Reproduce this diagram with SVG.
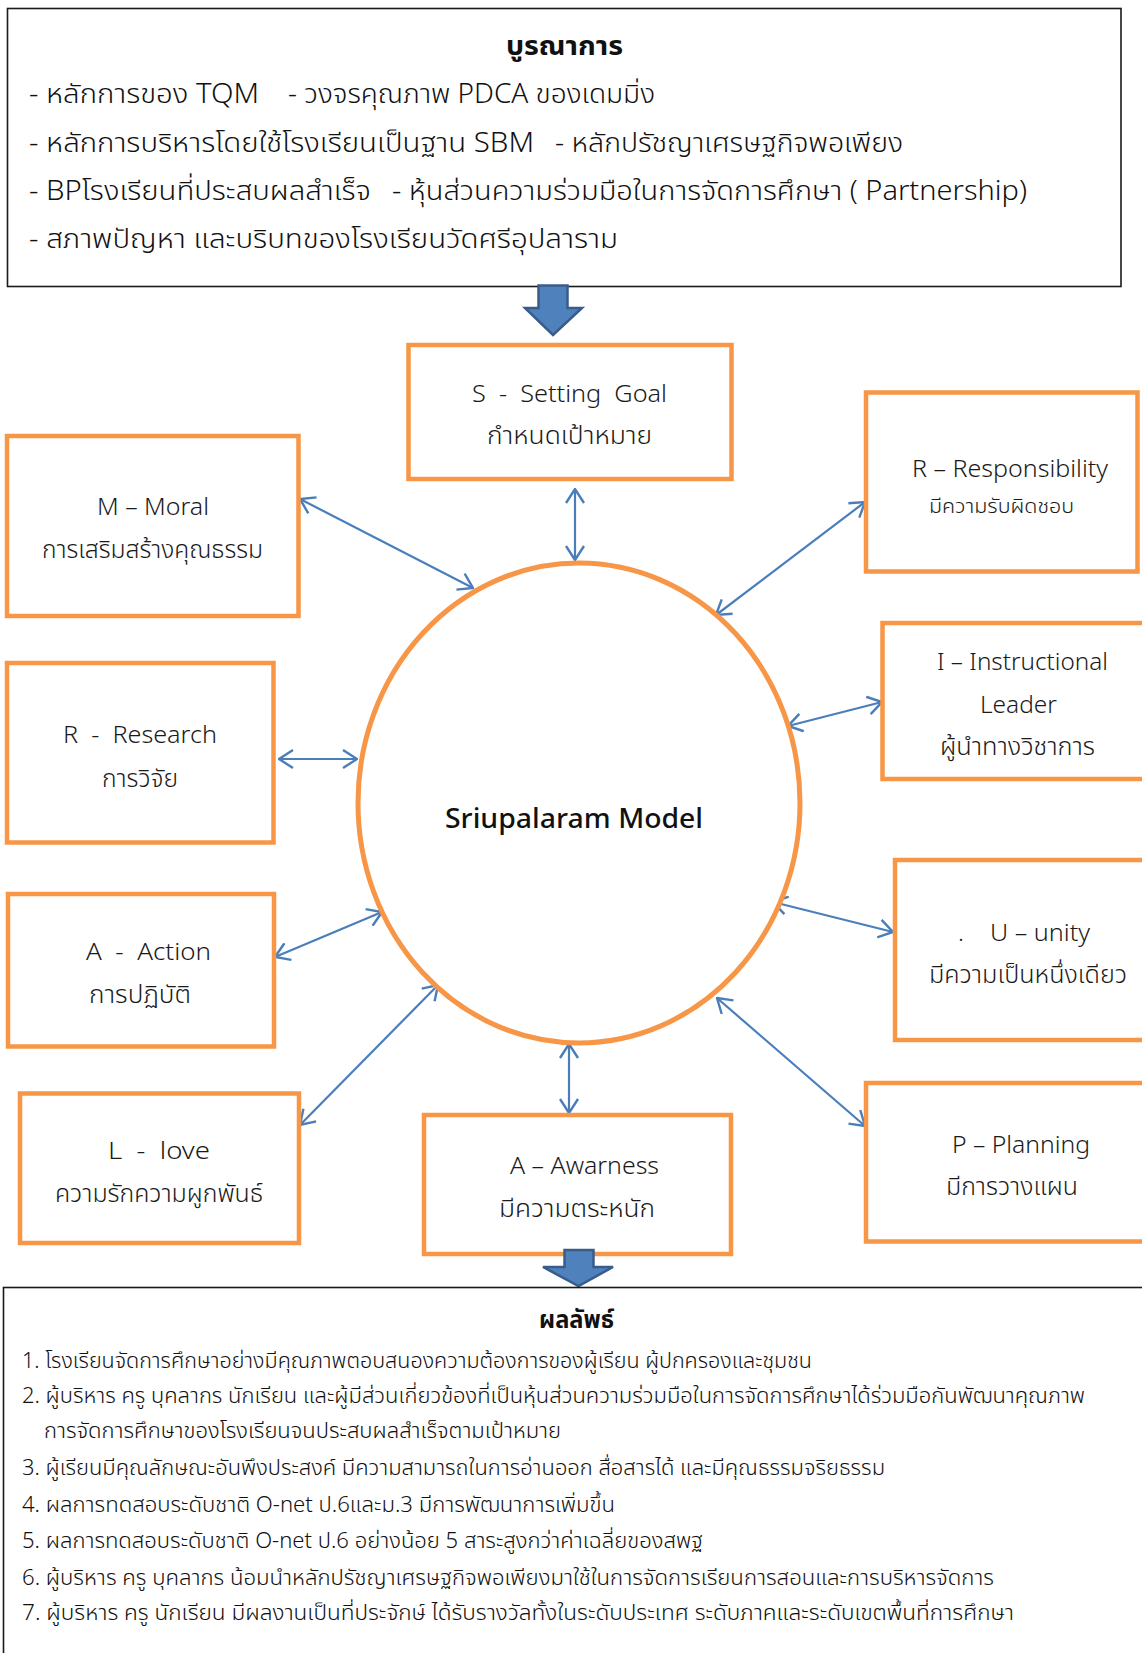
<svg xmlns="http://www.w3.org/2000/svg" width="1142" height="1653" viewBox="0 0 1142 1653">
<defs>
<style>
.frame{fill:#fff;stroke:#1a1a1a;stroke-width:1.6}
.box{fill:#fff;stroke:#F79646;stroke-width:4.5}
.circ{fill:#fff;stroke:#F79646;stroke-width:5}
.con{fill:none;stroke:#4A7EBB;stroke-width:2.2}
.big{fill:#4F81BD;stroke:#385D8A;stroke-width:2.5}
text{white-space:pre}
.lbl{font-family:"Noto Sans Thai","Leelawadee UI",Tahoma,"DejaVu Sans","Noto Sans",sans-serif;font-size:24px;font-weight:300;fill:#1a1a1a}
.sm{font-size:20px}
.txt{font-family:"Noto Sans Thai","Angsana New","DejaVu Sans Condensed","Liberation Sans",sans-serif;font-size:27px;font-weight:300;fill:#111}
.btxt{font-family:"Noto Sans Thai","Angsana New","DejaVu Sans Condensed","Liberation Sans",sans-serif;font-size:21px;font-weight:300;fill:#111}
.hd{font-weight:bold}
.model{font-family:"Noto Sans Thai","Leelawadee UI","Noto Sans",sans-serif;font-size:27px;font-weight:500;fill:#111}
</style>
<marker id="ah" viewBox="0 0 16 20" refX="15" refY="10" markerWidth="16" markerHeight="20" markerUnits="userSpaceOnUse" orient="auto-start-reverse">
<path d="M1,1 L15,10 L1,19" fill="none" stroke="#4A7EBB" stroke-width="2.4"/>
</marker>
</defs>
<rect width="1142" height="1653" fill="#fff"/>

<g id="top-box">
<rect class="frame" x="7.5" y="8.5" width="1113.5" height="278"/>
<text class="txt hd" x="506" y="55" textLength="117" lengthAdjust="spacingAndGlyphs">บูรณาการ</text>
<text class="txt" x="29" y="103" textLength="230" lengthAdjust="spacingAndGlyphs">- หลักการของ TQM</text>
<text class="txt" x="288" y="103" textLength="367" lengthAdjust="spacingAndGlyphs">- วงจรคุณภาพ PDCA ของเดมมิ่ง</text>
<text class="txt" x="29" y="152" textLength="505" lengthAdjust="spacingAndGlyphs">- หลักการบริหารโดยใช้โรงเรียนเป็นฐาน SBM</text>
<text class="txt" x="555" y="152" textLength="348" lengthAdjust="spacingAndGlyphs">- หลักปรัชญาเศรษฐกิจพอเพียง</text>
<text class="txt" x="29" y="200" textLength="342" lengthAdjust="spacingAndGlyphs">- BPโรงเรียนที่ประสบผลสำเร็จ</text>
<text class="txt" x="392" y="200" textLength="635" lengthAdjust="spacingAndGlyphs">- หุ้นส่วนความร่วมมือในการจัดการศึกษา ( Partnership)</text>
<text class="txt" x="29" y="248" textLength="589" lengthAdjust="spacingAndGlyphs">- สภาพปัญหา และบริบทของโรงเรียนวัดศรีอุปลาราม</text>
</g>

<g id="arrow-in">
<path class="big" d="M538.5,285.5 H567.5 V308 H582 L553,335 L525,308 H538.5 Z"/>
</g>

<g id="connectors">
<line class="con" x1="575" y1="489" x2="575" y2="560" marker-start="url(#ah)" marker-end="url(#ah)"/>
<line class="con" x1="300" y1="499" x2="473" y2="588" marker-start="url(#ah)" marker-end="url(#ah)"/>
<line class="con" x1="865" y1="502" x2="716" y2="615" marker-start="url(#ah)" marker-end="url(#ah)"/>
<line class="con" x1="279" y1="759" x2="357" y2="759" marker-start="url(#ah)" marker-end="url(#ah)"/>
<line class="con" x1="882" y1="702" x2="788" y2="726" marker-start="url(#ah)" marker-end="url(#ah)"/>
<line class="con" x1="275" y1="957" x2="382" y2="912" marker-start="url(#ah)" marker-end="url(#ah)"/>
<line class="con" x1="893" y1="932" x2="773" y2="902" marker-start="url(#ah)" marker-end="url(#ah)"/>
<line class="con" x1="300" y1="1125" x2="438" y2="985" marker-start="url(#ah)" marker-end="url(#ah)"/>
<line class="con" x1="569" y1="1044" x2="569" y2="1113" marker-start="url(#ah)" marker-end="url(#ah)"/>
<line class="con" x1="865" y1="1126" x2="717" y2="998" marker-start="url(#ah)" marker-end="url(#ah)"/>
</g>

<g id="center">
<ellipse class="circ" cx="579" cy="803" rx="221" ry="240"/>
<text class="model" x="445" y="828" textLength="258" lengthAdjust="spacingAndGlyphs">Sriupalaram Model</text>
</g>

<g id="node-s">
<rect class="box" x="408.5" y="345" width="323" height="134"/>
<text class="lbl" x="472" y="402" textLength="195" lengthAdjust="spacingAndGlyphs">S  -  Setting  Goal</text>
<text class="lbl" x="487" y="444" textLength="165" lengthAdjust="spacingAndGlyphs">กำหนดเป้าหมาย</text>
</g>

<g id="node-m">
<rect class="box" x="7" y="436" width="291.5" height="180"/>
<text class="lbl" x="97" y="515" textLength="112" lengthAdjust="spacingAndGlyphs">M – Moral</text>
<text class="lbl" x="42" y="558" textLength="221" lengthAdjust="spacingAndGlyphs">การเสริมสร้างคุณธรรม</text>
</g>

<g id="node-r1">
<rect class="box" x="866" y="392.5" width="271.5" height="179"/>
<text class="lbl" x="912" y="477" textLength="196" lengthAdjust="spacingAndGlyphs">R – Responsibility</text>
<text class="lbl sm" x="929" y="513" textLength="145" lengthAdjust="spacingAndGlyphs">มีความรับผิดชอบ</text>
</g>

<g id="node-r2">
<rect class="box" x="7" y="663" width="266.5" height="179.5"/>
<text class="lbl" x="63" y="743" textLength="154" lengthAdjust="spacingAndGlyphs">R  -  Research</text>
<text class="lbl" x="102" y="787" textLength="76" lengthAdjust="spacingAndGlyphs">การวิจัย</text>
</g>

<g id="node-i">
<rect class="box" x="882.5" y="623" width="270" height="156"/>
<text class="lbl" x="937" y="670" textLength="171" lengthAdjust="spacingAndGlyphs">I – Instructional</text>
<text class="lbl" x="980" y="713" textLength="77" lengthAdjust="spacingAndGlyphs">Leader</text>
<text class="lbl" x="940" y="755" textLength="155" lengthAdjust="spacingAndGlyphs">ผู้นำทางวิชาการ</text>
</g>

<g id="node-a1">
<rect class="box" x="8" y="894" width="266" height="152.5"/>
<text class="lbl" x="86" y="960" textLength="125" lengthAdjust="spacingAndGlyphs">A  -  Action</text>
<text class="lbl" x="89" y="1003" textLength="102" lengthAdjust="spacingAndGlyphs">การปฏิบัติ</text>
</g>

<g id="node-u">
<rect class="box" x="895" y="860" width="260" height="180"/>
<text class="lbl" x="958" y="941">.</text>
<text class="lbl" x="990" y="941" textLength="100" lengthAdjust="spacingAndGlyphs">U – unity</text>
<text class="lbl" x="929" y="983" textLength="198" lengthAdjust="spacingAndGlyphs">มีความเป็นหนึ่งเดียว</text>
</g>

<g id="node-l">
<rect class="box" x="20" y="1093.5" width="279" height="149.5"/>
<text class="lbl" x="108" y="1159" textLength="102" lengthAdjust="spacingAndGlyphs">L  -  love</text>
<text class="lbl" x="55" y="1202" textLength="208" lengthAdjust="spacingAndGlyphs">ความรักความผูกพันธ์</text>
</g>

<g id="node-a2">
<rect class="box" x="424" y="1115" width="307" height="139"/>
<text class="lbl" x="510" y="1174" textLength="149" lengthAdjust="spacingAndGlyphs">A – Awarness</text>
<text class="lbl" x="499" y="1217" textLength="156" lengthAdjust="spacingAndGlyphs">มีความตระหนัก</text>
</g>

<g id="node-p">
<rect class="box" x="866" y="1083" width="290" height="158.5"/>
<text class="lbl" x="952" y="1153" textLength="138" lengthAdjust="spacingAndGlyphs">P – Planning</text>
<text class="lbl" x="946" y="1195" textLength="132" lengthAdjust="spacingAndGlyphs">มีการวางแผน</text>
</g>

<g id="arrow-out">
<path class="big" d="M564.5,1250 H593.5 V1267 H613 L578.5,1286 L543,1267 H564.5 Z"/>
</g>

<g id="bottom-box">
<rect class="frame" x="3.5" y="1287.5" width="1145" height="400"/>
<text class="btxt hd" x="539" y="1328" textLength="75" lengthAdjust="spacingAndGlyphs" style="font-size:25px">ผลลัพธ์</text>
<text class="btxt" x="22" y="1368" textLength="790" lengthAdjust="spacingAndGlyphs">1. โรงเรียนจัดการศึกษาอย่างมีคุณภาพตอบสนองความต้องการของผู้เรียน ผู้ปกครองและชุมชน</text>
<text class="btxt" x="22" y="1403" textLength="1063" lengthAdjust="spacingAndGlyphs">2. ผู้บริหาร ครู บุคลากร นักเรียน และผู้มีส่วนเกี่ยวข้องที่เป็นหุ้นส่วนความร่วมมือในการจัดการศึกษาได้ร่วมมือกันพัฒนาคุณภาพ</text>
<text class="btxt" x="44" y="1438" textLength="517" lengthAdjust="spacingAndGlyphs">การจัดการศึกษาของโรงเรียนจนประสบผลสำเร็จตามเป้าหมาย</text>
<text class="btxt" x="22" y="1475" textLength="863" lengthAdjust="spacingAndGlyphs">3. ผู้เรียนมีคุณลักษณะอันพึงประสงค์ มีความสามารถในการอ่านออก สื่อสารได้ และมีคุณธรรมจริยธรรม</text>
<text class="btxt" x="22" y="1512" textLength="593" lengthAdjust="spacingAndGlyphs">4. ผลการทดสอบระดับชาติ O-net ป.6และม.3 มีการพัฒนาการเพิ่มขึ้น</text>
<text class="btxt" x="22" y="1548" textLength="681" lengthAdjust="spacingAndGlyphs">5. ผลการทดสอบระดับชาติ O-net ป.6 อย่างน้อย 5 สาระสูงกว่าค่าเฉลี่ยของสพฐ</text>
<text class="btxt" x="22" y="1585" textLength="972" lengthAdjust="spacingAndGlyphs">6. ผู้บริหาร ครู บุคลากร น้อมนำหลักปรัชญาเศรษฐกิจพอเพียงมาใช้ในการจัดการเรียนการสอนและการบริหารจัดการ</text>
<text class="btxt" x="22" y="1620" textLength="992" lengthAdjust="spacingAndGlyphs">7. ผู้บริหาร ครู นักเรียน มีผลงานเป็นที่ประจักษ์ ได้รับรางวัลทั้งในระดับประเทศ ระดับภาคและระดับเขตพื้นที่การศึกษา</text>
</g>
</svg>
